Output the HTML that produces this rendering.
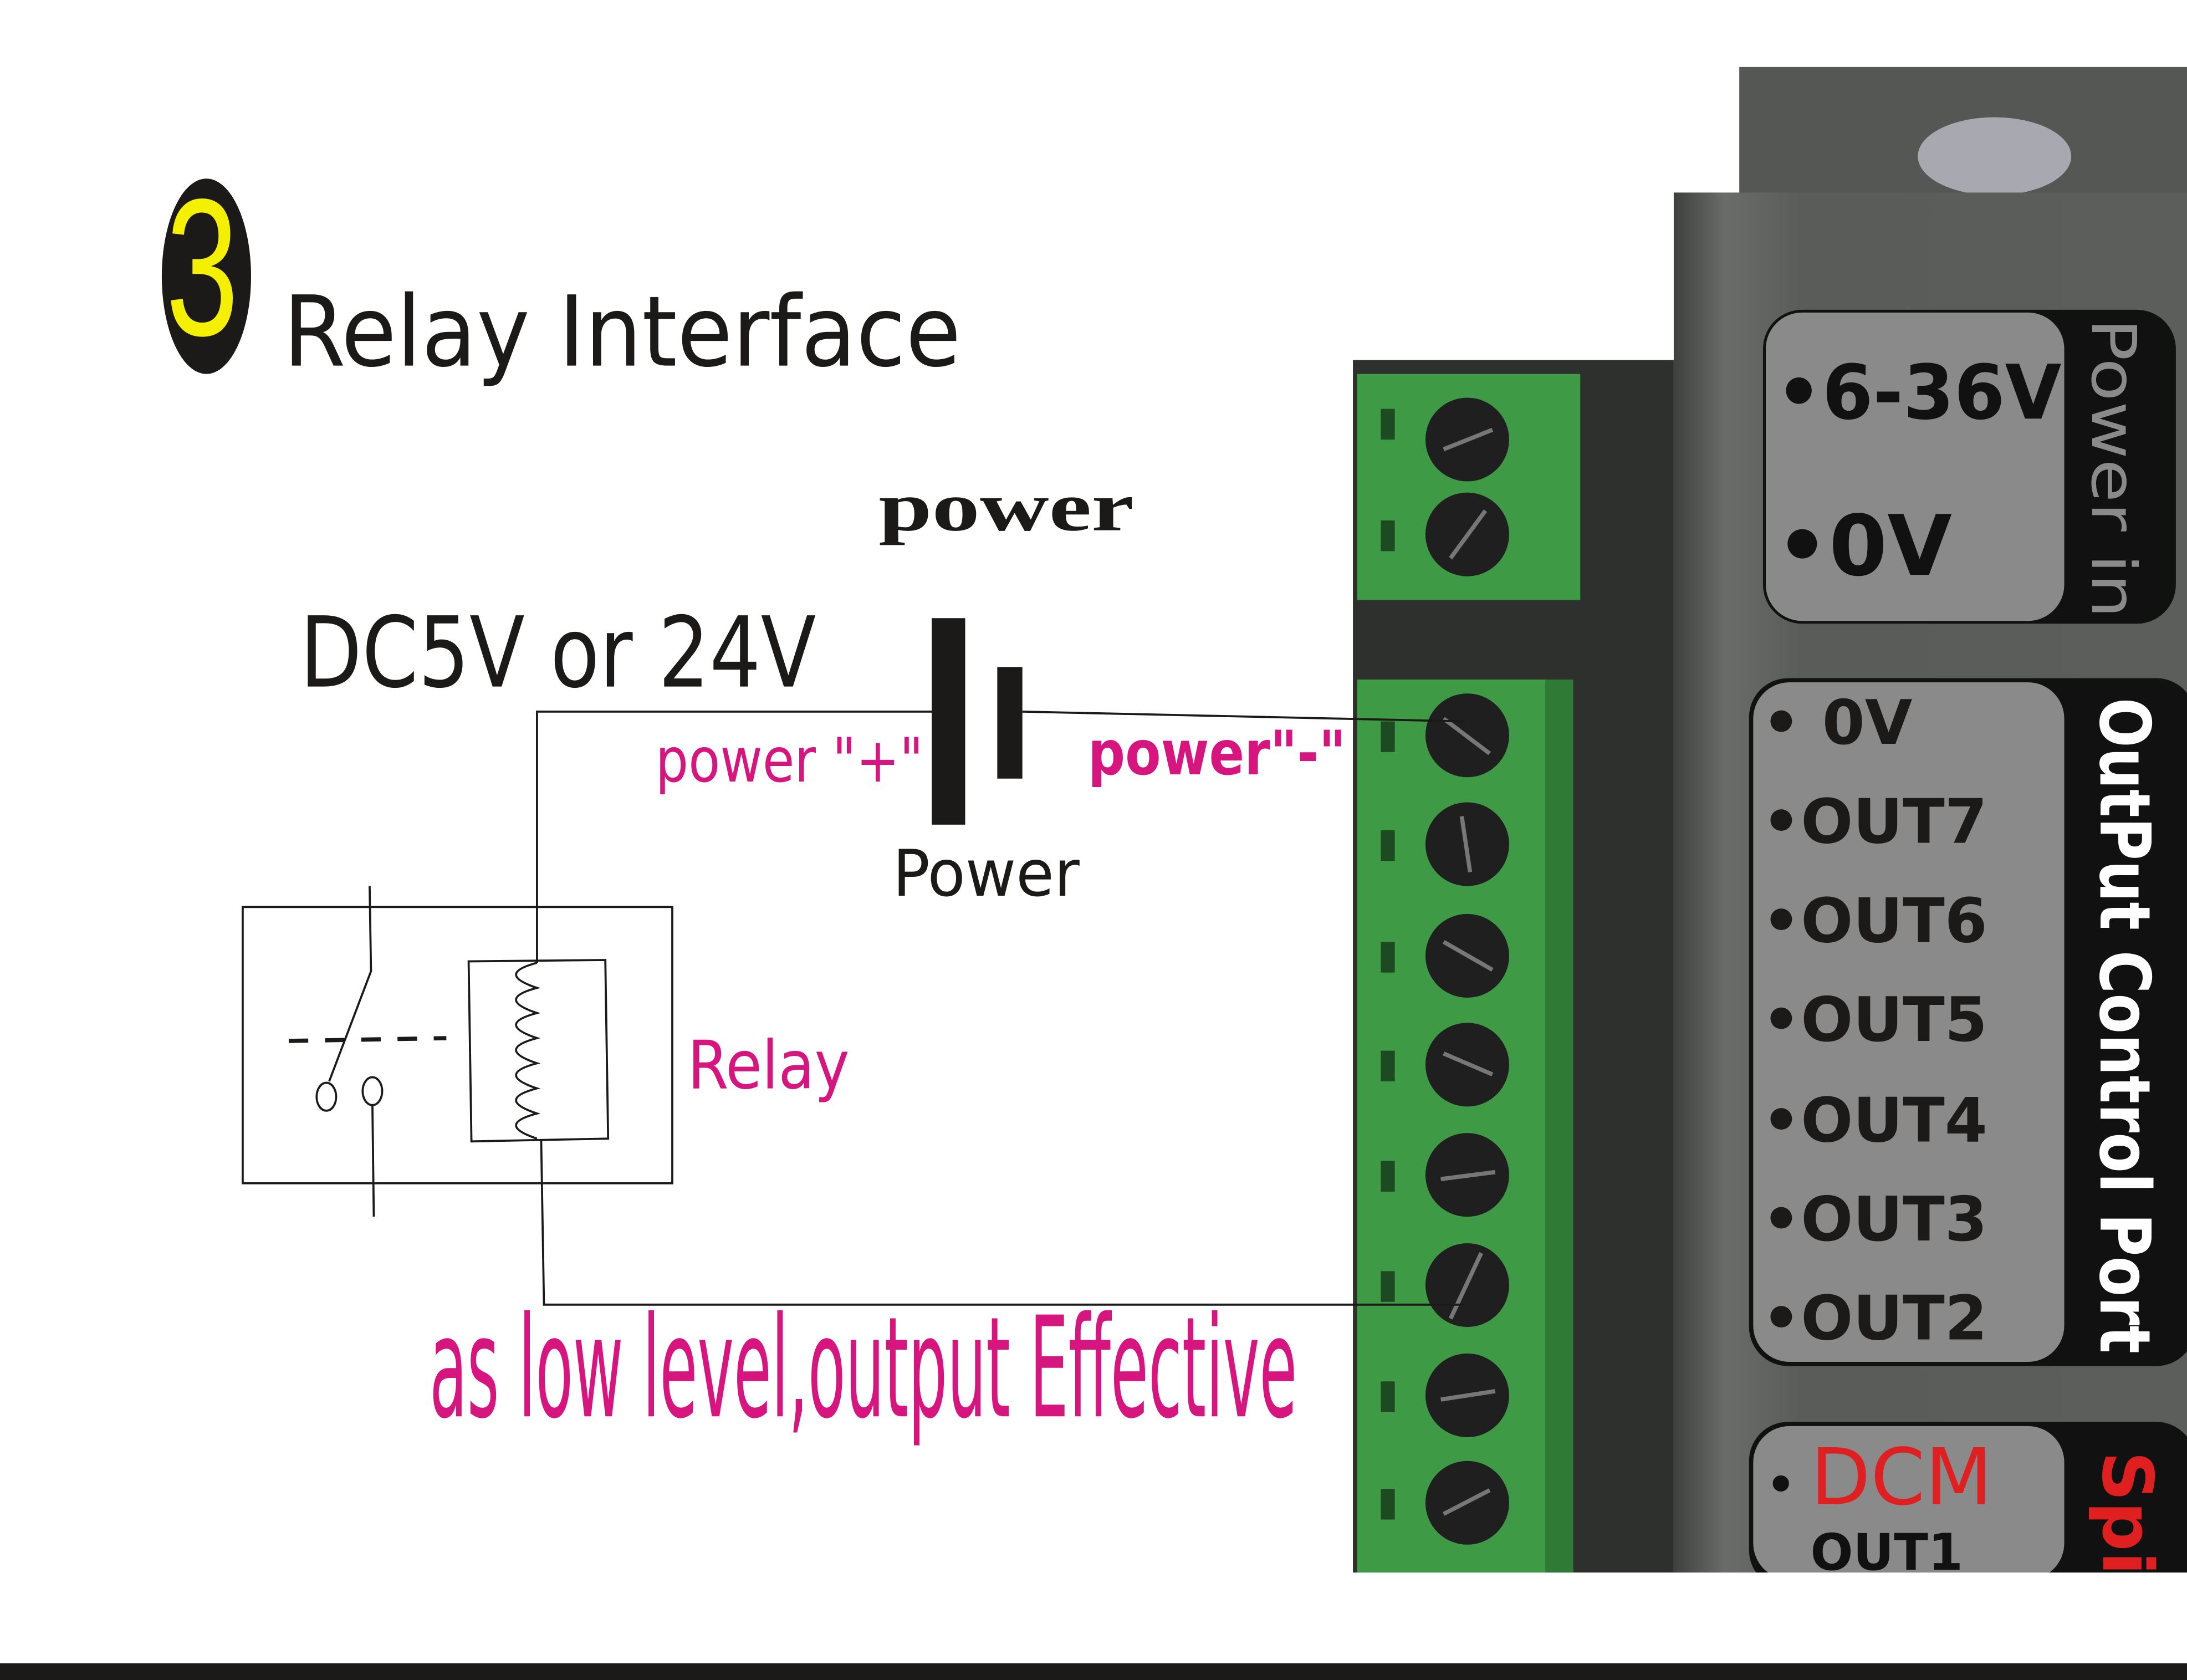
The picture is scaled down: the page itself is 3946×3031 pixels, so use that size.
<!DOCTYPE html>
<html><head><meta charset="utf-8"><style>
html,body{margin:0;padding:0;background:#fff;}
svg{display:block;}
</style></head><body>
<svg width="3946" height="3031" viewBox="0 0 1568 1204" preserveAspectRatio="none" xmlns="http://www.w3.org/2000/svg">
<defs>
<linearGradient id="metal" x1="0" x2="1" y1="0" y2="0">
<stop offset="0" stop-color="#3e403e"/><stop offset="0.1" stop-color="#6a6c6a"/><stop offset="0.25" stop-color="#5a5c5a"/><stop offset="1" stop-color="#5c5e5c"/>
</linearGradient>
</defs>
<rect width="1568" height="1204" fill="#fff"/>
<ellipse cx="148" cy="198" rx="32" ry="70" fill="#1c1a18"/>
<text x="119" y="240" font-family="Liberation Sans, sans-serif" font-size="140" fill="#f5f000" textLength="52" lengthAdjust="spacingAndGlyphs">3</text>
<text x="203" y="262" font-family="DejaVu Sans Condensed, DejaVu Sans, sans-serif" font-size="70" fill="#1c1a18" textLength="486" lengthAdjust="spacingAndGlyphs">Relay Interface</text>
<text x="630" y="380" font-family="Liberation Serif, serif" font-weight="bold" font-size="50" fill="#1c1a18" textLength="183" lengthAdjust="spacingAndGlyphs">power</text>
<text x="215" y="492" font-family="DejaVu Sans Condensed, DejaVu Sans, sans-serif" font-size="70" fill="#1c1a18" textLength="370" lengthAdjust="spacingAndGlyphs">DC5V or 24V</text>
<rect x="1247" y="48" width="321" height="100" fill="#555755"/>
<ellipse cx="1430" cy="112" rx="55" ry="28" fill="#a8a8b0"/>
<rect x="1200" y="138" width="368" height="990" fill="url(#metal)"/>
<rect x="970" y="258" width="230" height="870" fill="#2e302e"/>
<rect x="973" y="268" width="160" height="162" fill="#3f9a45"/>
<rect x="973" y="487" width="135" height="640" fill="#3f9a45"/>
<rect x="1108" y="487" width="20" height="640" fill="#2f7a35"/>
<g fill="#1f1f1f">
<circle cx="1052" cy="315" r="30"/><circle cx="1052" cy="383" r="30"/>
<circle cx="1052" cy="527" r="30"/><circle cx="1052" cy="605" r="30"/>
<circle cx="1052" cy="685" r="30"/><circle cx="1052" cy="763" r="30"/>
<circle cx="1052" cy="842" r="30"/><circle cx="1052" cy="921" r="30"/>
<circle cx="1052" cy="1000" r="30"/><circle cx="1052" cy="1077" r="30"/>
</g>
<g stroke="#777" stroke-width="3">
<line x1="1035" y1="322" x2="1070" y2="308"/><line x1="1040" y1="400" x2="1065" y2="366"/>
<line x1="1035" y1="515" x2="1068" y2="540"/><line x1="1048" y1="585" x2="1054" y2="625"/>
<line x1="1035" y1="675" x2="1070" y2="695"/><line x1="1035" y1="755" x2="1070" y2="770"/>
<line x1="1033" y1="845" x2="1072" y2="840"/><line x1="1040" y1="945" x2="1062" y2="898"/>
<line x1="1033" y1="1003" x2="1072" y2="997"/><line x1="1035" y1="1085" x2="1068" y2="1068"/>
</g>
<g fill="#1d4a20">
<rect x="990" y="293" width="10" height="22"/><rect x="990" y="373" width="10" height="22"/>
<rect x="990" y="517" width="10" height="22"/><rect x="990" y="595" width="10" height="22"/>
<rect x="990" y="675" width="10" height="22"/><rect x="990" y="753" width="10" height="22"/>
<rect x="990" y="832" width="10" height="22"/><rect x="990" y="911" width="10" height="22"/>
<rect x="990" y="990" width="10" height="22"/><rect x="990" y="1067" width="10" height="22"/>
</g>
<rect x="1264" y="222" width="296" height="225" rx="28" fill="#111"/>
<rect x="1266" y="224" width="214" height="221" rx="26" fill="#8a8a8a"/>
<text x="1273" y="300" font-family="DejaVu Sans, sans-serif" font-weight="bold" font-size="54" fill="#111" textLength="205" lengthAdjust="spacingAndGlyphs">•6-36V</text>
<text x="1273" y="412" font-family="DejaVu Sans, sans-serif" font-weight="bold" font-size="60" fill="#111">•0V</text>
<text transform="translate(1500,228) rotate(90)" font-family="DejaVu Sans, sans-serif" font-size="44" fill="#8a8a8a" textLength="215" lengthAdjust="spacingAndGlyphs">Power in</text>
<rect x="1254" y="486" width="320" height="493" rx="28" fill="#111"/>
<rect x="1257" y="489" width="223" height="487" rx="26" fill="#8a8a8a"/>
<g font-family="DejaVu Sans, sans-serif" font-weight="bold" font-size="44" fill="#1c1a18">
<text x="1263" y="533">• 0V</text>
<text x="1263" y="604">•OUT7</text>
<text x="1263" y="675">•OUT6</text>
<text x="1263" y="746">•OUT5</text>
<text x="1263" y="818">•OUT4</text>
<text x="1263" y="889">•OUT3</text>
<text x="1263" y="960">•OUT2</text>
</g>
<text transform="translate(1506,500) rotate(90)" font-family="DejaVu Sans Condensed, DejaVu Sans, sans-serif" font-weight="bold" font-size="50" fill="#fff" textLength="470" lengthAdjust="spacingAndGlyphs">OutPut Control Port</text>
<rect x="1254" y="1019" width="320" height="120" rx="28" fill="#111"/>
<rect x="1257" y="1022" width="223" height="110" rx="26" fill="#8a8a8a"/>
<text x="1265" y="1078" font-family="DejaVu Sans, sans-serif" font-size="40" fill="#111">•</text>
<text x="1298" y="1078" font-family="DejaVu Sans, sans-serif" font-size="56" fill="#e02020">DCM</text>
<text x="1298" y="1125" font-family="DejaVu Sans, sans-serif" font-weight="bold" font-size="36" fill="#111">OUT1</text>
<text transform="translate(1508,1040) rotate(90)" font-family="DejaVu Sans, sans-serif" font-weight="bold" font-size="50" fill="#e02020">Spi</text>
<rect x="960" y="1127" width="608" height="70" fill="#fff"/>
<g stroke="#1c1a18" stroke-width="1.5" fill="none">
<polyline points="668,510 385,510 385,690"/>
<line x1="733" y1="510" x2="1050" y2="517"/>
<polyline points="388,817 390,935 1050,935"/>
<rect x="174" y="650" width="308" height="198"/>
<polygon points="336,689 434,688 436,816 338,818"/>
<path d="M385,690 q-30,8 0,18 q-30,8 0,18 q-30,8 0,18 q-30,8 0,18 q-30,8 0,18 q-30,8 0,18 q-30,8 0,18"/>
<polyline points="265,635 266,696 236,775"/>
<ellipse cx="234" cy="786" rx="7" ry="10"/>
<ellipse cx="267" cy="782" rx="7" ry="10"/>
<line x1="267" y1="792" x2="268" y2="872"/>
</g>
<line x1="207" y1="746" x2="320" y2="744" stroke="#1c1a18" stroke-width="3" stroke-dasharray="14,12"/>
<rect x="668" y="443" width="24" height="148" fill="#1c1a18"/>
<rect x="715" y="478" width="18" height="80" fill="#1c1a18"/>
<g fill="#d6157f" font-family="DejaVu Sans Condensed, DejaVu Sans, sans-serif">
<text x="470" y="560" font-size="44" textLength="192" lengthAdjust="spacingAndGlyphs">power "+"</text>
<text x="780" y="555" font-size="44" font-weight="bold" textLength="185" lengthAdjust="spacingAndGlyphs">power"-"</text>
<text x="493" y="780" font-size="48" textLength="116" lengthAdjust="spacingAndGlyphs">Relay</text>
<text x="308" y="1015" font-size="100" textLength="622" lengthAdjust="spacingAndGlyphs">as low level,output Effective</text>
</g>
<text x="640" y="642" font-family="DejaVu Sans Condensed, DejaVu Sans, sans-serif" font-size="46" fill="#1c1a18" textLength="134" lengthAdjust="spacingAndGlyphs">Power</text>
<rect x="0" y="1192" width="1568" height="12" fill="#1c1a18"/>
</svg>
</body></html>
